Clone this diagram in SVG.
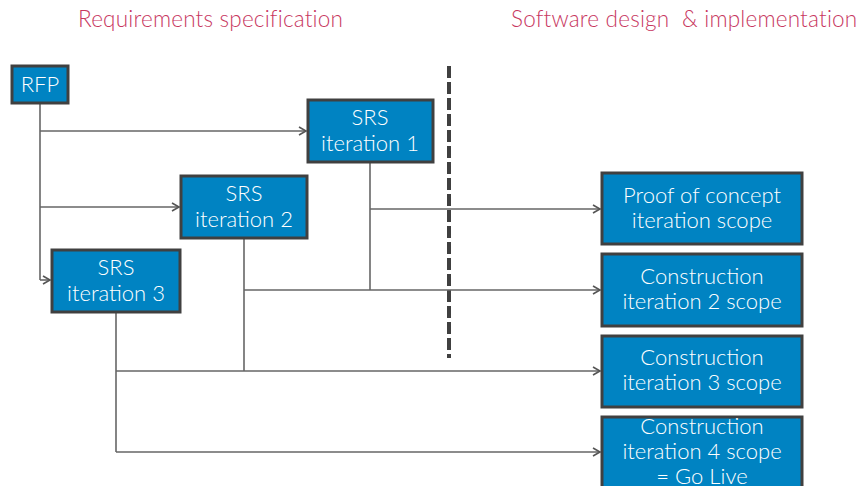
<svg xmlns="http://www.w3.org/2000/svg" width="859" height="486" viewBox="0 0 859 486">
<defs>
<style>
.box{fill:#0083C2;stroke:#404040;stroke-width:3}
.t{font-family:Lato,"Open Sans","Liberation Sans",sans-serif;font-size:22px;font-weight:300;fill:#fff;text-anchor:middle}
.h{font-family:Lato,"Open Sans","Liberation Sans",sans-serif;font-size:22.5px;font-weight:300;letter-spacing:0.2px;fill:#C8385F;white-space:pre}
.c{fill:none;stroke:#666;stroke-width:1.6}
</style>
<marker id="a" markerWidth="10" markerHeight="10" refX="8" refY="5" orient="auto" markerUnits="userSpaceOnUse">
<path d="M1,1 L8,5 L1,9" fill="none" stroke="#555" stroke-width="1.6"/>
</marker>
</defs>
<rect width="859" height="486" fill="#fff"/>
<text class="h" x="78" y="27">Requirements specification</text>
<text class="h" x="511" y="27" xml:space="preserve">Software design  &amp; implementation</text>
<line x1="449" y1="66" x2="449" y2="358" stroke="#404040" stroke-width="4" stroke-dasharray="12,4"/>
<g id="connectors">
<path class="c" d="M40,103 V280"/>
<path class="c" d="M40,131 H306" marker-end="url(#a)"/>
<path class="c" d="M40,207 H179" marker-end="url(#a)"/>
<path class="c" d="M40,280 H50" marker-end="url(#a)"/>
<path class="c" d="M370,162 V290"/>
<path class="c" d="M370,209 H600" marker-end="url(#a)"/>
<path class="c" d="M244,238 V371"/>
<path class="c" d="M244,290 H600" marker-end="url(#a)"/>
<path class="c" d="M116,312 V452"/>
<path class="c" d="M116,371 H600" marker-end="url(#a)"/>
<path class="c" d="M116,452 H600" marker-end="url(#a)"/>
</g>
<g id="rfp"><rect class="box" x="12" y="66" width="56" height="37"/><text class="t" x="40" y="92">RFP</text></g>
<g id="srs1"><rect class="box" x="308" y="100" width="125" height="62"/><text class="t" x="370" y="125">SRS</text><text class="t" x="370" y="151">iteration 1</text></g>
<g id="srs2"><rect class="box" x="181" y="176" width="126" height="62"/><text class="t" x="244" y="201">SRS</text><text class="t" x="244" y="227">iteration 2</text></g>
<g id="srs3"><rect class="box" x="52" y="250" width="128" height="62"/><text class="t" x="116" y="275">SRS</text><text class="t" x="116" y="301">iteration 3</text></g>
<g id="poc"><rect class="box" x="602" y="173" width="200" height="71"/><text class="t" x="702" y="203">Proof of concept</text><text class="t" x="702" y="228">iteration scope</text></g>
<g id="c2"><rect class="box" x="602" y="254" width="200" height="72"/><text class="t" x="702" y="284">Construction</text><text class="t" x="702" y="309">iteration 2 scope</text></g>
<g id="c3"><rect class="box" x="602" y="336" width="200" height="71"/><text class="t" x="702" y="365">Construction</text><text class="t" x="702" y="390">iteration 3 scope</text></g>
<g id="c4"><rect class="box" x="602" y="417" width="200" height="80"/><text class="t" x="702" y="434">Construction</text><text class="t" x="702" y="459">iteration 4 scope</text><text class="t" x="702" y="484">= Go Live</text></g>
</svg>
